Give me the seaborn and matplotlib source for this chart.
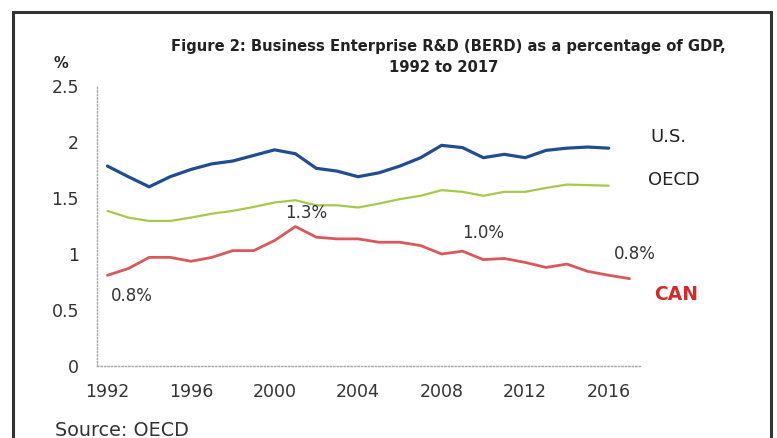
import matplotlib
matplotlib.use("Agg")
import matplotlib.pyplot as plt
import matplotlib.patches as mpatches
import numpy as np
import pandas as pd
import seaborn as sns

# Business enterprise R&D as % of GDP
years = list(range(1992, 2018))
us = [1.785, 1.69, 1.60, 1.69, 1.755, 1.805, 1.83, 1.88, 1.93, 1.895, 1.765, 1.74,
      1.69, 1.725, 1.785, 1.86, 1.97, 1.95, 1.86, 1.89, 1.86, 1.925, 1.945, 1.955, 1.945]
oecd = [1.385, 1.325, 1.295, 1.295, 1.325, 1.36, 1.385, 1.42, 1.46, 1.48, 1.435, 1.435,
        1.415, 1.45, 1.49, 1.52, 1.57, 1.555, 1.52, 1.555, 1.555, 1.59, 1.62, 1.615, 1.61]
can = [0.81, 0.87, 0.97, 0.97, 0.935, 0.97, 1.03, 1.03, 1.12, 1.245, 1.15, 1.135, 1.135,
       1.105, 1.105, 1.075, 1.00, 1.025, 0.95, 0.96, 0.925, 0.88, 0.91, 0.845, 0.81, 0.78]

tick_years = [1992, 1996, 2000, 2004, 2008, 2012, 2016]
y_ticks = [0, 0.5, 1, 1.5, 2, 2.5]
y_tick_labels = ["0", "0.5", "1", "1.5", "2", "2.5"]

series_names = ["U.S.", "OECD", "CAN"]
series_colors = {"U.S.": "#1f4d8f", "OECD": "#a8c84c", "CAN": "#d9585b"}
series_widths = {"U.S.": 2.3, "OECD": 1.6, "CAN": 2.0}

# Point labels: (year, value, text)
point_labels = [(1992, can[0], "0.8%"), (2001, can[9], "1.3%"),
                (2008, can[16], "1.0%"), (2017, can[25], "0.8%")]

frames = []
for name, vals in zip(series_names, [us, oecd, can]):
    frames.append(pd.DataFrame({"year": years[:len(vals)], "value": vals, "series": name}))
df = pd.concat(frames, ignore_index=True)

sns.set_style("white")
plt.rcParams["font.family"] = ["DejaVu Sans"]

W, H = 777, 438
fig = plt.figure(figsize=(W / 100, H / 100), dpi=100)
fig.patch.set_facecolor("white")

ax = fig.add_axes([97 / W, 1 - 366 / H, (640 - 97) / W, (366 - 86) / H])

for name in series_names:
    sns.lineplot(data=df[df["series"] == name], x="year", y="value", ax=ax,
                 color=series_colors[name], linewidth=series_widths[name],
                 legend=False, estimator=None)

ax.set_xlim(1991.5, 2017.5)
ax.set_ylim(0, 2.5)
ax.set_xlabel("")
ax.set_ylabel("")

# category labels centred on years, tick marks on category boundaries
ax.set_xticks(tick_years)
ax.set_xticklabels([str(y) for y in tick_years])
ax.set_xticks([y - 0.5 for y in tick_years] + [2017.5], minor=True)
ax.tick_params(axis="x", which="major", length=0, pad=12, labelsize=12.5, labelcolor="#333333")
ax.tick_params(axis="x", which="minor", length=4, direction="inout", color="#b5b5b5", width=0.8)
ax.set_yticks(y_ticks)
ax.set_yticklabels(y_tick_labels)
ax.tick_params(axis="y", which="major", length=4, color="#b5b5b5", width=0.8, pad=9,
               labelsize=12.5, labelcolor="#333333")

for side in ["top", "right"]:
    ax.spines[side].set_visible(False)
for side in ["left", "bottom"]:
    ax.spines[side].set_color("#a8a8a8")
    ax.spines[side].set_linestyle((0, (1, 1.5)))
    ax.spines[side].set_linewidth(1.0)
ax.patch.set_alpha(0)

label_offsets = {0: (24, -21), 1: (11, 14), 2: (42, 21), 3: (5, 25)}
for i, (yr, val, txt) in enumerate(point_labels):
    dx, dy = label_offsets[i]
    ax.annotate(txt, (yr, val), xytext=(dx, dy), textcoords="offset pixels",
                ha="center", va="center", fontsize=12, color="#333333")

# Series names at right
ax.text(650 / W, 1 - 137 / H, "U.S.", transform=fig.transFigure, fontsize=13,
        color="#222222", va="center", ha="left")
ax.text(648 / W, 1 - 180 / H, "OECD", transform=fig.transFigure, fontsize=13,
        color="#222222", va="center", ha="left")
ax.text(654 / W, 1 - 295 / H, "CAN", transform=fig.transFigure, fontsize=13.5,
        color="#d42a2a", fontweight="bold", va="center", ha="left")

fig.text(448 / W, 1 - 47 / H, "Figure 2: Business Enterprise R&D (BERD) as a percentage of GDP,",
         ha="center", va="center", fontsize=11.8, fontweight="bold", color="#222222",
         fontstretch="condensed")
fig.text(444 / W, 1 - 67 / H, "1992 to 2017", ha="center", va="center", fontsize=11.8,
         fontweight="bold", color="#222222", fontstretch="condensed")
fig.text(61 / W, 1 - 64 / H, "%", ha="center", va="center", fontsize=10.5,
         fontweight="bold", color="#222222")
fig.text(55 / W, 1 - 430 / H, "Source: OECD", ha="left", va="center", fontsize=13.8,
         color="#333333")

# Frame around the figure
frame = mpatches.Rectangle((13, -20), 771 - 13, (H - 12) + 20, transform=None,
                           fill=False, edgecolor="#333333", linewidth=2.2)
fig.patches.append(frame)

fig.savefig("out.png", dpi=100, facecolor="white")
